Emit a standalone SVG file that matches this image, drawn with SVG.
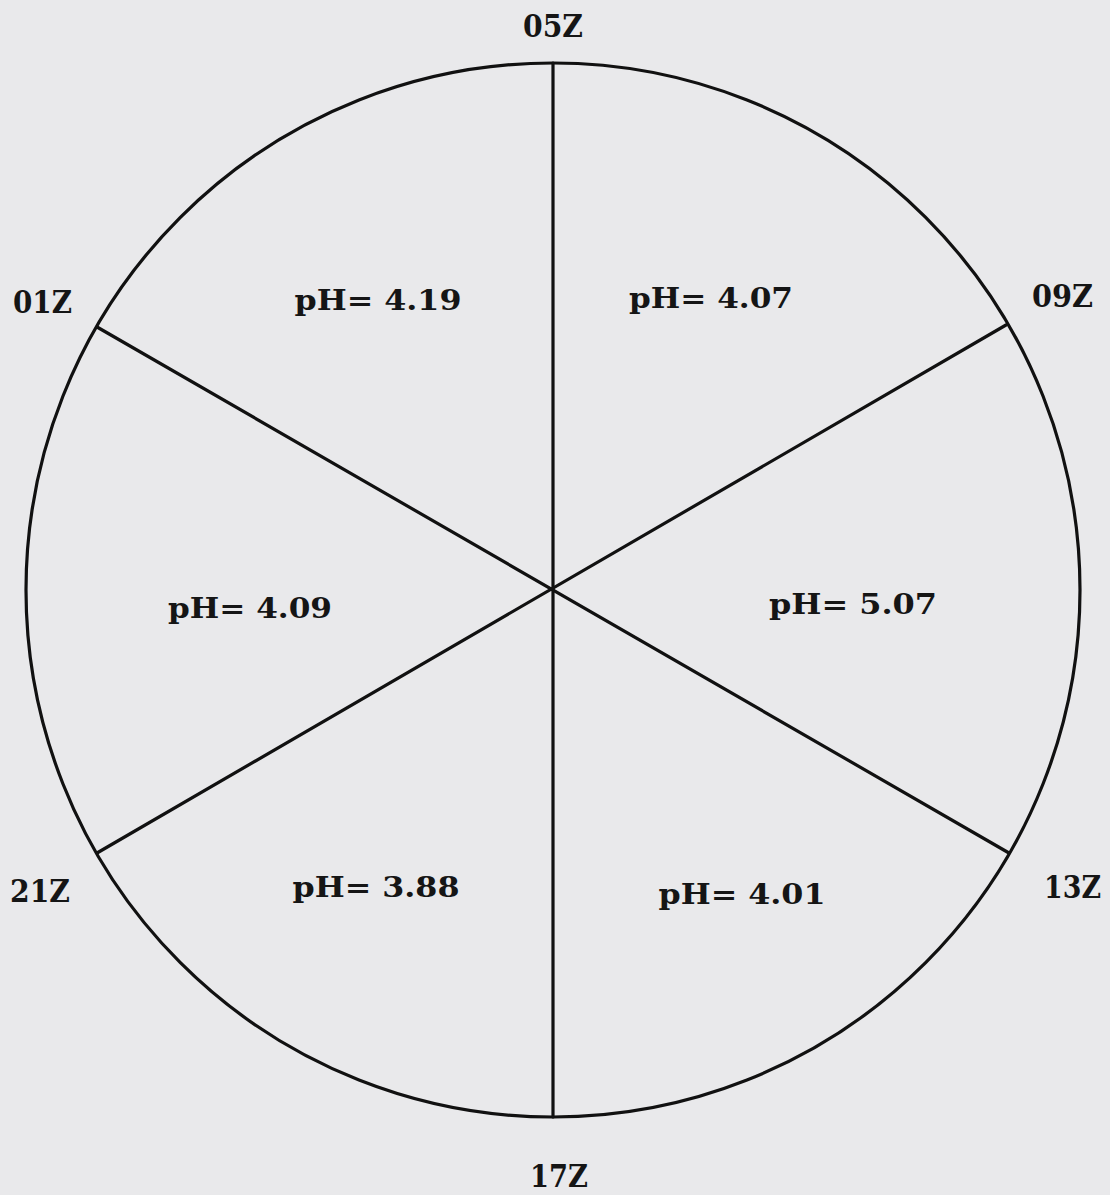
<svg xmlns="http://www.w3.org/2000/svg" width="1110" height="1195" viewBox="0 0 1110 1195">
<style>
.bg{fill:#e9e9eb}
.ln{stroke:#111;stroke-width:3.2;fill:none;stroke-linecap:round}
.hr{font-family:"DejaVu Serif","Liberation Serif",serif;font-weight:bold;font-size:31px;fill:#151515}
.ph{font-family:"DejaVu Serif","Liberation Serif",serif;font-weight:bold;font-size:28px;fill:#151515;text-anchor:middle}
</style>
<rect class="bg" x="0" y="0" width="1110" height="1195"/>
<g id="connectors">
<circle class="ln" cx="553" cy="590" r="527"/>
<line class="ln" x1="553" y1="63" x2="553" y2="1117"/>
<line class="ln" x1="97" y1="327" x2="1009" y2="853"/>
<line class="ln" x1="97" y1="853" x2="1006" y2="325"/>
</g>
<g id="label-05Z"><text class="hr" x="523" y="37" textLength="60" lengthAdjust="spacingAndGlyphs">05Z</text></g>
<g id="label-09Z"><text class="hr" x="1032" y="307" textLength="61" lengthAdjust="spacingAndGlyphs">09Z</text></g>
<g id="label-13Z"><text class="hr" x="1044" y="898" textLength="57" lengthAdjust="spacingAndGlyphs">13Z</text></g>
<g id="label-17Z"><text class="hr" x="530" y="1187" textLength="58" lengthAdjust="spacingAndGlyphs">17Z</text></g>
<g id="label-21Z"><text class="hr" x="10" y="902" textLength="60" lengthAdjust="spacingAndGlyphs">21Z</text></g>
<g id="label-01Z"><text class="hr" x="13" y="313" textLength="59" lengthAdjust="spacingAndGlyphs">01Z</text></g>
<g id="sector-01-05"><text class="ph" x="378" y="310" textLength="167" lengthAdjust="spacingAndGlyphs">pH= 4.19</text></g>
<g id="sector-05-09"><text class="ph" x="711" y="308" textLength="164" lengthAdjust="spacingAndGlyphs">pH= 4.07</text></g>
<g id="sector-21-01"><text class="ph" x="250" y="618" textLength="164" lengthAdjust="spacingAndGlyphs">pH= 4.09</text></g>
<g id="sector-09-13"><text class="ph" x="853" y="614" textLength="168" lengthAdjust="spacingAndGlyphs">pH= 5.07</text></g>
<g id="sector-17-21"><text class="ph" x="376" y="897" textLength="167" lengthAdjust="spacingAndGlyphs">pH= 3.88</text></g>
<g id="sector-13-17"><text class="ph" x="742" y="904" textLength="167" lengthAdjust="spacingAndGlyphs">pH= 4.01</text></g>
</svg>
